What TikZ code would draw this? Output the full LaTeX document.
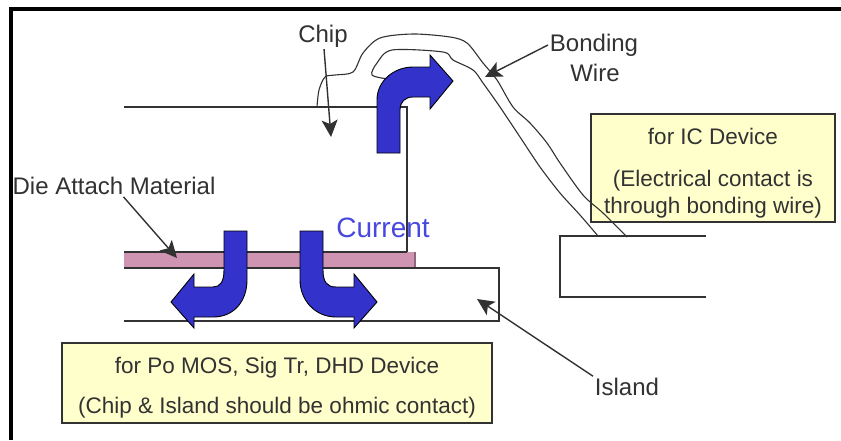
\documentclass[tikz,border=0pt]{standalone}
\usepackage{fontspec}
\setmainfont{Liberation Sans}
\usetikzlibrary{arrows.meta}
\definecolor{B4}{RGB}{51,51,204}
\definecolor{C4}{RGB}{72,72,222}
\definecolor{P4}{RGB}{206,148,178}
\definecolor{Y4}{RGB}{255,255,204}
\definecolor{G4}{RGB}{50,50,50}
\tikzset{
  labeltext/.style={font=\fontsize{24}{28}\selectfont, text=G4, inner sep=0pt, outer sep=2pt},
  notebox/.style={draw=G4, line width=1.6pt, fill=Y4, align=center, inner sep=0pt, font=\fontsize{22.5}{26}\selectfont, text=G4},
  pointer/.style={line width=1.4pt, G4, -{Stealth[length=17pt,width=16pt,inset=4pt]}},
  outline/.style={line width=1.4pt, G4},
  wire/.style={line width=1.1pt, G4},
  flow/.style={fill=B4, draw=black, line width=0.9pt, line join=miter},
}
\begin{document}
\begin{tikzpicture}[x=1pt,y=-1pt]
      \useasboundingbox (0,0) rectangle (841,440);
      \fill[white] (0,0) rectangle (841,440);
      \draw[line width=4pt, black] (11,440)--(11,9)--(841,9);
      \draw[outline] (124,107)--(407,107)--(407,252);
      \fill[P4] (124,252) rectangle (415,268);
      \draw[outline] (124,252)--(407,252);
      \draw[line width=1.4pt, P4!70!black] (415,252)--(415,268);
      \draw[outline] (124,268)--(499,268)--(499,321)--(124,321);
      \draw[outline] (706,236)--(560,236)--(560,297)--(706,297);
      \node[notebox, minimum width=244pt, minimum height=108pt] (icnote) at (713,168)
        {\rule{0pt}{27pt}for IC Device\\[16pt](Electrical contact is\\[1pt]through bonding wire)};
      \node[notebox, minimum width=430pt, minimum height=80pt] (ponote) at (277,383)
        {\rule{0pt}{25pt}for Po MOS, Sig Tr, DHD Device\\[14pt](Chip \& Island should be ohmic contact)};
      \draw[wire] plot[smooth, tension=0.5] coordinates {(317,107) (319,90) (325,77) (335,75) (353,72)
        (363,53) (380,38) (413,34) (450,37) (467,43) (483,63) (497,80) (513,107) (530,123)
        (547,143) (560,163) (583,195) (603,213) (627,237)};
      \draw[wire] plot[smooth, tension=0.5] coordinates {(388,79) (372,75) (377,63) (392,50) (443,52)
        (453,60) (473,70) (483,83) (500,107) (520,137) (540,167) (560,193) (580,215) (598,236)};
      \draw[flow] (377,153)--(377,100) .. controls (377,80) and (395,67) .. (413,67)--(430,67)--(430,55)
        --(453,81)--(430,109)--(430,97)--(413,97) .. controls (405,97) and (400,102) .. (400,110)--(400,153)--cycle;
      \draw[flow] (224,231)--(224,270) .. controls (224,282) and (220,287) .. (213,287)--(194,287)--(194,274)
        --(171,302)--(194,328)--(194,317)--(213,317) .. controls (235,317) and (247,300) .. (247,280)--(247,231)--cycle;
      \draw[flow] (323,231)--(323,270) .. controls (323,282) and (327,287) .. (336,287)--(354,287)--(354,274)
        --(377,302)--(354,328)--(354,317)--(336,317) .. controls (315,317) and (300,300) .. (300,280)--(300,231)--cycle;
      \draw (323,36) node[labeltext] (chiplabel) {Chip};
      \draw (594,45) node[labeltext] (bondlabel) {Bonding};
      \draw (595,73) node[labeltext] (wirelabel) {Wire};
      \draw (114,186) node[labeltext] (dielabel) {Die Attach Material};
      \draw (627,387) node[labeltext] (islandlabel) {Island};
      \draw (383,228) node[labeltext, font=\fontsize{28}{32}\selectfont, text=C4] (currentlabel) {Current};
      \coordinate (chiptip) at (331,137);
      \coordinate (bondtip) at (485,77);
      \coordinate (dietip) at (177,258);
      \coordinate (islandtip) at (477,299);
      \draw[pointer] (chiplabel)--(chiptip);
      \draw[pointer] (bondlabel.west)--(bondtip);
      \draw[pointer] (dielabel)--(dietip);
      \draw[pointer] (islandlabel.north west)--(islandtip);
    \end{tikzpicture}
\end{document}
